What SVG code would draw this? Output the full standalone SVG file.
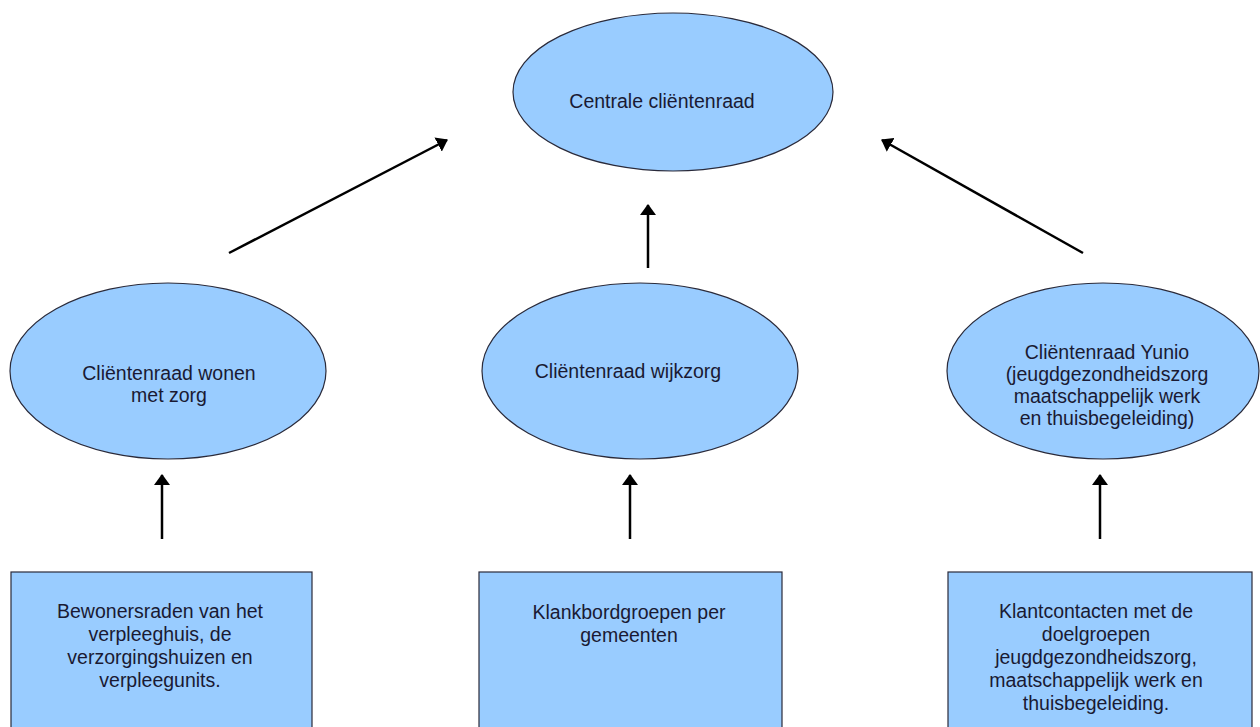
<svg xmlns="http://www.w3.org/2000/svg" width="1260" height="727" viewBox="0 0 1260 727">
<style>
.shape{fill:#99ccff;stroke:#2a2a3a;stroke-width:1.2}
.t{font-family:"Liberation Sans",Arial,sans-serif;font-size:19.5px;fill:#1a1a33;text-anchor:middle}
.c{stroke:#000;stroke-width:2.5;fill:none;marker-end:url(#ah)}
</style>
<defs>
<marker id="ah" viewBox="0 0 11 16" refX="10" refY="8" markerWidth="4.4" markerHeight="6.4" orient="auto" markerUnits="strokeWidth">
<path d="M0,0 L11,8 L0,16 z" fill="#000"/>
</marker>
</defs>
<rect width="1260" height="727" fill="#fff"/>
<g id="centrale">
<ellipse class="shape" cx="673" cy="92" rx="160" ry="79"/>
<text class="t" x="662" y="108">Centrale cliëntenraad</text>
</g>
<g id="wonen">
<ellipse class="shape" cx="168" cy="371" rx="158" ry="88"/>
<text class="t" x="169" y="380">Cliëntenraad wonen</text>
<text class="t" x="169" y="402">met zorg</text>
</g>
<g id="wijkzorg">
<ellipse class="shape" cx="640" cy="371" rx="158" ry="88"/>
<text class="t" x="628" y="378">Cliëntenraad wijkzorg</text>
</g>
<g id="yunio">
<ellipse class="shape" cx="1103" cy="371" rx="156" ry="88"/>
<text class="t" x="1107" y="359">Cliëntenraad Yunio</text>
<text class="t" x="1107" y="381">(jeugdgezondheidszorg</text>
<text class="t" x="1107" y="403">maatschappelijk werk</text>
<text class="t" x="1107" y="425">en thuisbegeleiding)</text>
</g>
<g id="bewonersraden">
<rect class="shape" x="11" y="572" width="301" height="170"/>
<text class="t" x="160" y="618">Bewonersraden van het</text>
<text class="t" x="160" y="641">verpleeghuis, de</text>
<text class="t" x="160" y="664">verzorgingshuizen en</text>
<text class="t" x="160" y="687">verpleegunits.</text>
</g>
<g id="klankbord">
<rect class="shape" x="479" y="572" width="303" height="170"/>
<text class="t" x="629" y="619">Klankbordgroepen per</text>
<text class="t" x="629" y="642">gemeenten</text>
</g>
<g id="klantcontacten">
<rect class="shape" x="948" y="572" width="304" height="170"/>
<text class="t" x="1096" y="618">Klantcontacten met de</text>
<text class="t" x="1096" y="641">doelgroepen</text>
<text class="t" x="1096" y="664">jeugdgezondheidszorg,</text>
<text class="t" x="1096" y="687">maatschappelijk werk en</text>
<text class="t" x="1096" y="710">thuisbegeleiding.</text>
</g>
<g id="connectors">
<line class="c" x1="229" y1="253" x2="447" y2="140"/>
<line class="c" x1="648" y1="268" x2="648" y2="205"/>
<line class="c" x1="1083" y1="253" x2="882" y2="140"/>
<line class="c" x1="162" y1="539" x2="162" y2="475"/>
<line class="c" x1="630" y1="539" x2="630" y2="475"/>
<line class="c" x1="1100" y1="539" x2="1100" y2="475"/>
</g>
</svg>
